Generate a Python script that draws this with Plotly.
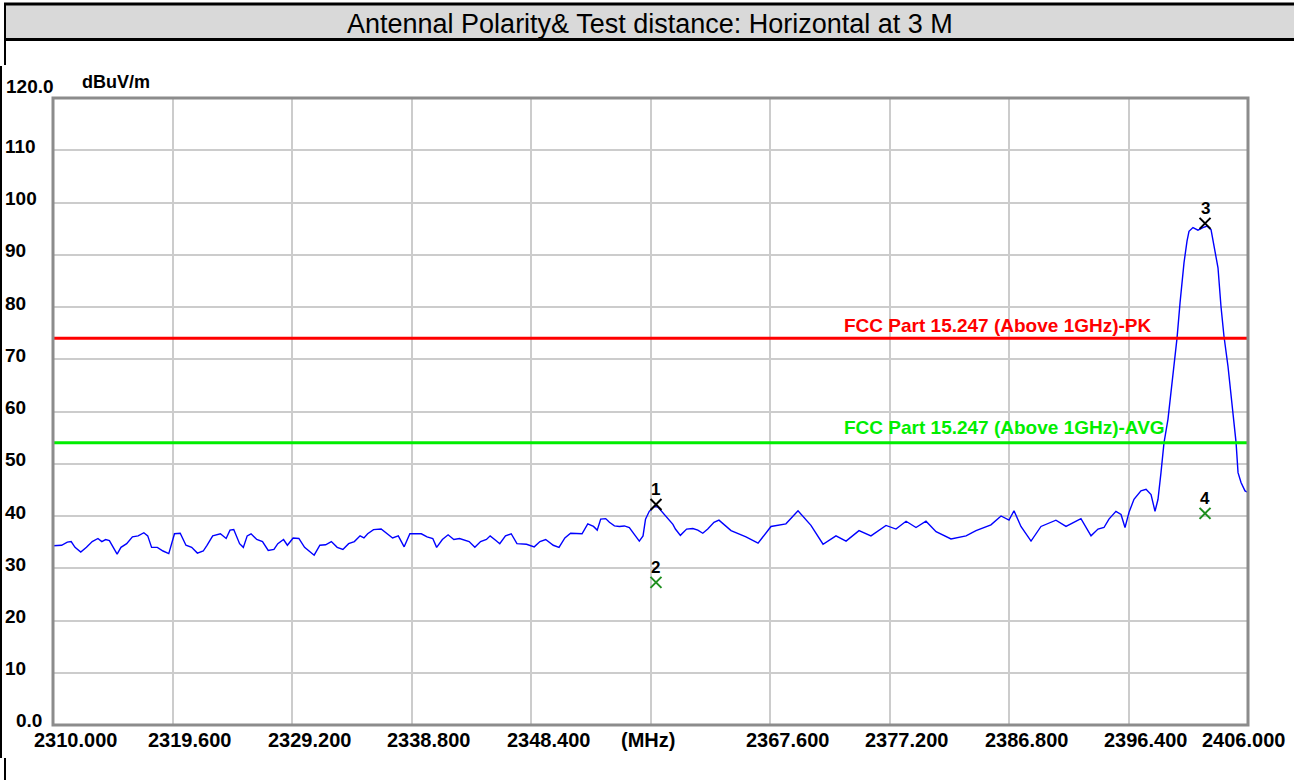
import plotly.graph_objects as go

# ---------------- data ----------------
freq_mhz = [
    2310.00, 2310.69, 2311.15, 2311.46, 2311.77, 2312.23, 2312.69, 2313.15, 2313.61, 2313.92,
    2314.23, 2314.53, 2314.84, 2315.15, 2315.46, 2315.92, 2316.38, 2316.84, 2317.30, 2317.61,
    2317.92, 2318.38, 2318.84, 2319.30, 2319.76, 2320.22, 2320.68, 2321.14, 2321.60, 2322.07,
    2322.37, 2322.83, 2323.45, 2323.91, 2324.22, 2324.52, 2324.99, 2325.29, 2325.60, 2325.91,
    2326.37, 2326.83, 2327.29, 2327.75, 2328.06, 2328.52, 2328.83, 2329.29, 2329.75, 2330.21,
    2330.98, 2331.44, 2331.90, 2332.36, 2332.83, 2333.29, 2333.75, 2334.21, 2334.67, 2334.98,
    2335.28, 2335.75, 2336.36, 2336.82, 2337.28, 2337.74, 2338.21, 2338.67, 2339.59, 2340.05,
    2340.51, 2340.82, 2341.28, 2341.74, 2342.20, 2342.66, 2343.12, 2343.43, 2343.89, 2344.35,
    2344.82, 2345.12, 2345.58, 2345.89, 2346.35, 2346.81, 2347.27, 2348.04, 2348.66, 2349.12,
    2349.58, 2350.19, 2350.65, 2351.12, 2351.58, 2352.04, 2352.50, 2352.96, 2353.42, 2353.72,
    2354.00, 2354.40, 2354.70, 2355.10, 2355.50, 2355.90, 2356.30, 2356.70, 2357.10, 2357.40,
    2357.60, 2357.90, 2358.30, 2358.60, 2359.00, 2359.40, 2359.80, 2360.00, 2360.40, 2360.90,
    2361.40, 2361.80, 2362.20, 2362.60, 2363.10, 2363.50,
    2364.47, 2365.67, 2366.64, 2367.68, 2368.88, 2369.85, 2370.89, 2371.86, 2372.90, 2373.71,
    2374.75, 2375.71, 2376.92, 2377.72, 2378.53, 2379.33, 2380.13, 2380.94, 2382.14, 2383.35,
    2384.15, 2385.35, 2386.16, 2386.80, 2387.20, 2387.76, 2388.57, 2389.37, 2390.57, 2391.38,
    2392.58, 2393.39, 2393.95,
    2394.43, 2394.83, 2395.39, 2395.80, 2396.12, 2396.44, 2396.84, 2397.40, 2397.81, 2398.21,
    2398.53, 2398.77, 2399.01, 2399.25, 2399.57, 2399.81, 2400.05, 2400.30, 2400.54, 2400.86,
    2401.10, 2401.26, 2401.58, 2401.98, 2402.38, 2402.71, 2403.03, 2403.27, 2403.59, 2403.83,
    2404.07, 2404.39, 2404.71, 2405.04, 2405.20, 2405.44, 2405.76, 2406.00,
]
level_dbuv = [
    34.3, 34.4, 35.0, 35.1, 34.0, 33.1, 34.0, 35.1, 35.7, 35.1,
    35.5, 35.3, 34.0, 32.7, 34.0, 34.7, 36.0, 36.2, 36.8, 36.2,
    34.0, 34.0, 33.3, 32.8, 36.6, 36.7, 34.4, 34.0, 32.9, 33.3,
    34.4, 36.2, 36.6, 35.7, 37.3, 37.4, 34.7, 34.0, 36.2, 36.6,
    35.5, 35.1, 33.4, 33.6, 34.7, 35.5, 34.4, 35.8, 35.7, 34.0,
    32.5, 34.4, 34.5, 35.1, 34.0, 33.6, 34.7, 35.1, 36.2, 35.8,
    36.6, 37.4, 37.5, 36.6, 35.8, 36.2, 34.1, 36.6, 36.6, 36.0,
    35.7, 34.0, 35.5, 36.4, 35.5, 35.7, 35.3, 35.1, 34.0, 35.1,
    35.5, 36.2, 35.3, 34.7, 36.2, 36.6, 34.7, 34.6, 34.1, 35.1,
    35.5, 34.4, 34.0, 35.8, 36.7, 36.6, 36.6, 38.5, 38.0, 37.3,
    39.4, 39.5, 38.8, 38.1, 38.0, 38.1, 37.8, 36.5, 35.2, 36.2,
    39.4, 40.9, 41.8, 41.7, 40.6, 39.4, 38.4, 37.5, 36.3, 37.5,
    37.6, 37.3, 36.7, 37.5, 38.8, 39.2,
    37.2, 36.0, 34.8, 38.0, 38.5, 41.0, 38.2, 34.6, 36.2, 35.2,
    37.2, 36.2, 38.2, 37.5, 39.0, 37.8, 39.0, 37.0, 35.6, 36.2,
    37.2, 38.3, 40.0, 39.2, 41.0, 38.0, 35.2, 38.0, 39.2, 38.0,
    39.5, 36.2, 37.5,
    37.8, 39.4, 40.9, 40.3, 37.8, 40.7, 43.2, 44.8, 45.1, 44.1,
    40.9, 43.2, 48.3, 54.0, 58.5, 63.6, 69.6, 74.1, 80.8, 88.5,
    92.6, 94.5, 95.2, 94.7, 95.2, 95.5, 94.8, 91.9, 87.5, 80.1,
    74.4, 68.7, 61.0, 54.1, 48.3, 46.4, 44.8, 44.5,
]

marker_ids = ["1", "2", "3", "4"]
marker_freq = [2358.44, 2358.44, 2402.55, 2402.55]
marker_level = [42.2, 27.3, 96.0, 40.5]
marker_colors = ["#000000", "#1f8f1f", "#000000", "#1f8f1f"]

limit_pk = 74.0
limit_avg = 54.0
limit_pk_label = "FCC Part 15.247 (Above 1GHz)-PK"
limit_avg_label = "FCC Part 15.247 (Above 1GHz)-AVG"

x_ticks = [2310.0, 2319.6, 2329.2, 2338.8, 2348.4, 2358.0, 2367.6, 2377.2, 2386.8, 2396.4, 2406.0]
x_tick_text = ["2310.000", "2319.600", "2329.200", "2338.800", "2348.400", "(MHz)",
               "2367.600", "2377.200", "2386.800", "2396.400", "2406.000"]
y_ticks = [0, 10, 20, 30, 40, 50, 60, 70, 80, 90, 100, 110, 120]
y_tick_text = ["0.0", "10", "20", "30", "40", "50", "60", "70", "80", "90", "100", "110", "120.0"]

title_text = "Antennal Polarity& Test distance: Horizontal at 3 M"
unit_text = "dBuV/m"

# ---------------- layout geometry (pixels) ----------------
W, H = 1294, 780
L, R, T, B = 53, 1248, 98, 725
PW, PH = R - L, B - T


def px(xp):
    return (xp - L) / PW


def py(yp):
    return (B - yp) / PH


FONT = "Arial, Liberation Sans, sans-serif"

fig = go.Figure()

# spectrum trace
fig.add_trace(go.Scatter(
    x=freq_mhz, y=level_dbuv, mode="lines",
    line=dict(color="#0000ff", width=1.4), hoverinfo="skip", showlegend=False,
))

# limit lines
for lv, col in [(limit_pk, "#ff0000"), (limit_avg, "#00ee00")]:
    fig.add_trace(go.Scatter(
        x=[x_ticks[0], x_ticks[-1]], y=[lv, lv], mode="lines",
        line=dict(color=col, width=3), hoverinfo="skip", showlegend=False,
    ))

# markers
fig.add_trace(go.Scatter(
    x=marker_freq, y=marker_level, mode="markers",
    marker=dict(symbol="x-thin-open", size=11, color=marker_colors,
                line=dict(width=2, color=marker_colors)),
    hoverinfo="skip", showlegend=False,
))

annotations = []
for mid, mf, ml in zip(marker_ids, marker_freq, marker_level):
    annotations.append(dict(
        x=mf, y=ml, xref="x", yref="y", text="<b>%s</b>" % mid, showarrow=False,
        font=dict(family=FONT, size=17, color="#000000"), yshift=15,
    ))

# limit labels
annotations.append(dict(
    x=2373.40, y=limit_pk, xref="x", yref="y", text="<b>%s</b>" % limit_pk_label,
    showarrow=False, xanchor="left", yanchor="middle", yshift=13,
    font=dict(family=FONT, size=19, color="#ff0000"),
))
annotations.append(dict(
    x=2373.40, y=limit_avg, xref="x", yref="y", text="<b>%s</b>" % limit_avg_label,
    showarrow=False, xanchor="left", yanchor="middle", yshift=15,
    font=dict(family=FONT, size=19, color="#00ee00"),
))

# x tick labels
for xv, txt in zip(x_ticks, x_tick_text):
    if txt == "2310.000":
        sh = 22
    elif txt == "2406.000":
        sh = -5
    elif txt == "(MHz)":
        sh = -3
    else:
        sh = 17
    annotations.append(dict(
        x=xv, y=py(740), xref="x", yref="paper", text="<b>%s</b>" % txt, showarrow=False,
        xanchor="center", yanchor="middle", xshift=sh,
        font=dict(family=FONT, size=20, color="#000000"),
    ))

# y tick labels
for yv, txt in zip(y_ticks, y_tick_text):
    if txt == "120.0":
        xl, sh = 4, 12
    elif txt == "0.0":
        xl, sh = 14, 5
    else:
        xl, sh = 3, 4
    annotations.append(dict(
        x=px(xl), y=yv, xref="paper", yref="y", text="<b>%s</b>" % txt, showarrow=False,
        xanchor="left", yanchor="middle", yshift=sh,
        font=dict(family=FONT, size=19, color="#000000"),
    ))

# unit label
annotations.append(dict(
    x=px(80), y=py(82), xref="paper", yref="paper", text="<b>%s</b>" % unit_text,
    showarrow=False, xanchor="left", yanchor="middle",
    font=dict(family=FONT, size=18, color="#000000"),
))

# title
annotations.append(dict(
    x=px(650), y=py(24), xref="paper", yref="paper", text=title_text,
    showarrow=False, xanchor="center", yanchor="middle",
    font=dict(family=FONT, size=27, color="#000000"),
))

shapes = [
    # title band
    dict(type="rect", xref="paper", yref="paper", x0=px(5), x1=px(W + 30), y0=py(39), y1=py(4),
         fillcolor="#d9d9d9", line=dict(width=0, color="rgba(0,0,0,0)"), layer="below"),
    dict(type="line", xref="paper", yref="paper", x0=px(4), x1=px(W + 30), y0=py(4), y1=py(4),
         line=dict(color="#000000", width=3)),
    dict(type="line", xref="paper", yref="paper", x0=px(4), x1=px(W + 30), y0=py(39.5), y1=py(39.5),
         line=dict(color="#000000", width=3)),
    dict(type="line", xref="paper", yref="paper", x0=px(5), x1=px(5), y0=py(3), y1=py(65),
         line=dict(color="#000000", width=2)),
    dict(type="line", xref="paper", yref="paper", x0=px(1), x1=px(1), y0=py(66), y1=py(758),
         line=dict(color="#000000", width=2)),
    dict(type="line", xref="paper", yref="paper", x0=px(5), x1=px(5), y0=py(758), y1=py(781),
         line=dict(color="#000000", width=2)),
    # plot frame
    dict(type="rect", xref="paper", yref="paper", x0=0, x1=1, y0=0, y1=1,
         line=dict(color="#8c8c8c", width=3), layer="above"),
]

fig.update_layout(
    width=W, height=H, autosize=False,
    margin=dict(l=L, r=W - R, t=T, b=H - B, pad=0),
    paper_bgcolor="#ffffff", plot_bgcolor="#ffffff",
    showlegend=False,
    xaxis=dict(range=[x_ticks[0], x_ticks[-1]], tickvals=x_ticks, showticklabels=False,
               showgrid=True, gridcolor="#cccccc", gridwidth=2, zeroline=False,
               showline=False, ticks="", fixedrange=True),
    yaxis=dict(range=[0, 120], tickvals=y_ticks, showticklabels=False,
               showgrid=True, gridcolor="#cccccc", gridwidth=2, zeroline=False,
               showline=False, ticks="", fixedrange=True),
    annotations=annotations,
    shapes=shapes,
)

fig.write_html(
    "out.html",
    config={"displayModeBar": False},
    post_script="document.body.style.margin='0';document.body.style.overflow='hidden';",
)
